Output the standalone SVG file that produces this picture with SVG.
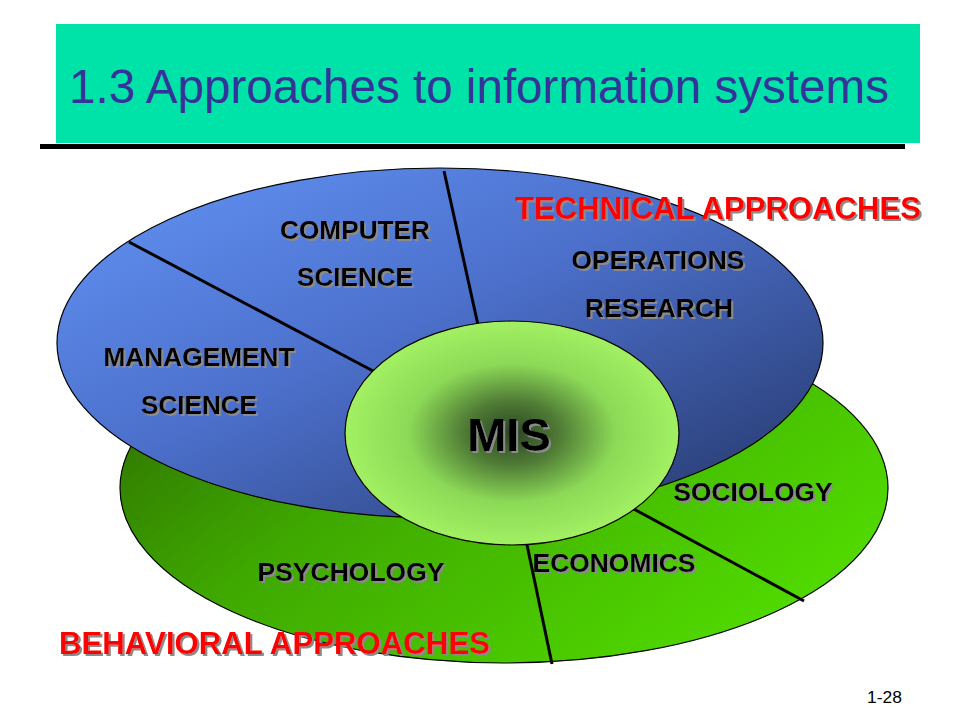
<svg xmlns="http://www.w3.org/2000/svg" width="960" height="720" viewBox="0 0 960 720">
  <defs>
    <linearGradient id="gBlue" x1="0" y1="0" x2="1" y2="1">
      <stop offset="0" stop-color="#6394F5"/>
      <stop offset="0.45" stop-color="#4C70CC"/>
      <stop offset="1" stop-color="#243566"/>
    </linearGradient>
    <linearGradient id="gGreen" x1="0" y1="0" x2="1" y2="0.6">
      <stop offset="0" stop-color="#2A6400"/>
      <stop offset="0.45" stop-color="#3FA800"/>
      <stop offset="1" stop-color="#50D800"/>
    </linearGradient>
    <radialGradient id="gMis" cx="0.5" cy="0.5" r="0.5">
      <stop offset="0" stop-color="#2C4424"/>
      <stop offset="0.28" stop-color="#4F7A35"/>
      <stop offset="0.62" stop-color="#8CD957"/>
      <stop offset="1" stop-color="#A2F062"/>
    </radialGradient>
    <filter id="shadow" x="-10%" y="-20%" width="120%" height="150%">
      <feDropShadow dx="2" dy="2" stdDeviation="0.6" flood-color="#8a8a8a" flood-opacity="1"/>
    </filter>
  </defs>
  <style>
    .lbl { font-family: "Liberation Sans", Arial, sans-serif; font-weight: bold; font-size: 25px; fill: #000; text-anchor: middle; filter: url(#shadow); }
    .red { font-family: "Liberation Sans", Arial, sans-serif; font-weight: bold; font-size: 31px; fill: #FF0000; filter: url(#shadow); }
    .div { stroke: #000; stroke-width: 3; fill: none; }
    .edge { stroke: #000; stroke-width: 1.2; }
  </style>
  <rect width="960" height="720" fill="#FFFFFF"/>

  <g id="title">
    <rect x="56" y="24" width="864" height="119" fill="#00E3A8"/>
    <rect x="40" y="144" width="865" height="5" fill="#000"/>
    <text x="69" y="103" font-family="'Liberation Sans', Arial, sans-serif" font-size="48" fill="#333399" textLength="820" lengthAdjust="spacingAndGlyphs">1.3 Approaches to information systems</text>
  </g>

  <g id="behavioral">
    <ellipse cx="504" cy="488" rx="384" ry="175" fill="url(#gGreen)" class="edge"/>
  </g>

  <g id="technical">
    <ellipse cx="440" cy="343" rx="383" ry="175" fill="url(#gBlue)" class="edge"/>
  </g>

  <g id="connectors">
    <line class="div" x1="129" y1="242" x2="375" y2="372"/>
    <line class="div" x1="444" y1="171" x2="478" y2="325"/>
    <line class="div" x1="526" y1="540" x2="552" y2="664"/>
    <line class="div" x1="630" y1="507" x2="804" y2="601"/>
  </g>

  <g id="mis">
    <ellipse cx="512" cy="433" rx="167" ry="112" fill="url(#gMis)" class="edge"/>
    <text x="509" y="451" class="lbl" style="font-size:47px">MIS</text>
  </g>

  <g id="computer-science">
    <text x="355" y="239" class="lbl" textLength="150" lengthAdjust="spacingAndGlyphs">COMPUTER</text>
    <text x="355" y="286" class="lbl" textLength="116" lengthAdjust="spacingAndGlyphs">SCIENCE</text>
  </g>
  <g id="management-science">
    <text x="199" y="366" class="lbl" textLength="191" lengthAdjust="spacingAndGlyphs">MANAGEMENT</text>
    <text x="199" y="414" class="lbl" textLength="116" lengthAdjust="spacingAndGlyphs">SCIENCE</text>
  </g>
  <g id="operations-research">
    <text x="658" y="269" class="lbl" textLength="173" lengthAdjust="spacingAndGlyphs">OPERATIONS</text>
    <text x="659" y="317" class="lbl" textLength="148" lengthAdjust="spacingAndGlyphs">RESEARCH</text>
  </g>
  <g id="sociology">
    <text x="753" y="501" class="lbl" textLength="159" lengthAdjust="spacingAndGlyphs">SOCIOLOGY</text>
  </g>
  <g id="economics">
    <text x="614" y="572" class="lbl" textLength="163" lengthAdjust="spacingAndGlyphs">ECONOMICS</text>
  </g>
  <g id="psychology">
    <text x="351" y="581" class="lbl" textLength="187" lengthAdjust="spacingAndGlyphs">PSYCHOLOGY</text>
  </g>

  <g id="technical-label">
    <text x="515" y="219" class="red" textLength="406" lengthAdjust="spacingAndGlyphs">TECHNICAL  APPROACHES</text>
  </g>
  <g id="behavioral-label">
    <text x="59" y="654" class="red" textLength="431" lengthAdjust="spacingAndGlyphs">BEHAVIORAL  APPROACHES</text>
  </g>

  <g id="page-number">
    <text x="867" y="703" font-family="'Liberation Sans', Arial, sans-serif" font-size="17" fill="#000" textLength="35" lengthAdjust="spacingAndGlyphs">1-28</text>
  </g>
</svg>
